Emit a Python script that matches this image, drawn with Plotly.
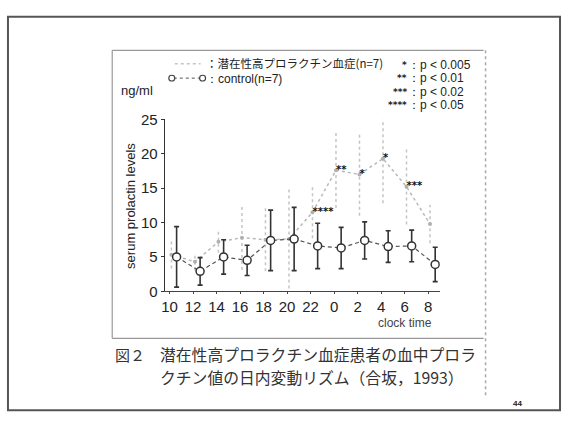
import plotly.graph_objects as go

# ---- data ----
hours = ["10", "12", "14", "16", "18", "20", "22", "0", "2", "4", "6", "8"]
control_mean = [5.0, 2.9, 5.0, 4.5, 7.4, 7.6, 6.6, 6.3, 7.4, 6.5, 6.6, 3.9]
control_sd = [4.4, 2.0, 2.5, 2.2, 4.4, 4.6, 3.3, 3.0, 2.7, 2.3, 2.3, 2.5]
hyper_mean = [5.3, 4.3, 7.2, 7.8, 7.5, 7.6, 11.5, 17.6, 17.0, 19.3, 15.2, 9.8]
hyper_sd = [2.0, 1.3, 1.6, 4.7, 4.6, 7.2, 3.8, 5.5, 6.0, 6.5, 5.5, 2.8]
stars = ["", "", "", "", "", "", "****", "**", "*", "*", "***", ""]
y_ticks = [0, 5, 10, 15, 20, 25]
sig_labels = ["*", "**", "***", "****"]
sig_levels = ["p < 0.005", "p < 0.01", "p < 0.02", "p < 0.05"]

W, H = 563, 426
NARROW = "Liberation Sans, Arial, sans-serif"
CJK = "Noto Sans CJK JP, sans-serif"
GRAY = "#c4c4c4"
INK = "#222222"


def P(x):
    return x / W


def Q(y):
    return 1 - y / H


idx = list(range(len(hours)))
hx = [i + 0.08 for i in idx]
cx = [i + 0.3 for i in idx]

# dotted error bars for hyper group
ebx, eby = [], []
for x, m, s in zip(hx, hyper_mean, hyper_sd):
    ebx += [x, x, None]
    eby += [m - s, m + s, None]

fig = go.Figure()
fig.add_trace(go.Scatter(x=ebx, y=eby, mode="lines",
                         line=dict(color=GRAY, width=1.5, dash="dot"),
                         hoverinfo="skip", showlegend=False))
fig.add_trace(go.Scatter(x=hx, y=hyper_mean, mode="lines+markers",
                         line=dict(color="#b8b8b8", width=1.5, dash="dot"),
                         marker=dict(color="#b0b0b0", size=4),
                         showlegend=False))
fig.add_trace(go.Scatter(x=cx, y=control_mean, mode="lines+markers",
                         line=dict(color="#555", width=1.2, dash="4px,3px"),
                         marker=dict(symbol="circle", size=8, color="white",
                                     line=dict(color="#333", width=1.5)),
                         error_y=dict(type="data", array=control_sd, visible=True,
                                      color="#333", thickness=1.6, width=2.5),
                         showlegend=False))
fig.add_trace(go.Scatter(x=hx, y=hyper_mean, mode="text", text=stars,
                         textposition="middle right",
                         textfont=dict(family="DejaVu Sans, sans-serif", size=10,
                                       color="#111", weight="bold"),
                         hoverinfo="skip", showlegend=False))

shapes = []
# outer slide frame
shapes.append(dict(type="rect", xref="paper", yref="paper",
                   x0=P(4), x1=P(560), y0=Q(418), y1=Q(8),
                   line=dict(color="#555", width=2)))
# chart box lines
shapes.append(dict(type="line", xref="paper", yref="paper",
                   x0=P(109), x1=P(483), y0=Q(43), y1=Q(43),
                   line=dict(color="#999", width=1.2)))
shapes.append(dict(type="line", xref="paper", yref="paper",
                   x0=P(109), x1=P(109), y0=Q(43), y1=Q(343),
                   line=dict(color="#999", width=1.2)))
shapes.append(dict(type="line", xref="paper", yref="paper",
                   x0=P(109), x1=P(483), y0=Q(343), y1=Q(343),
                   line=dict(color="#999", width=1.2)))
shapes.append(dict(type="line", xref="paper", yref="paper",
                   x0=P(485), x1=P(485), y0=Q(43), y1=Q(405),
                   line=dict(color="#aaa", width=1.5, dash="dot")))
# legend samples
shapes.append(dict(type="line", xref="paper", yref="paper",
                   x0=P(172), x1=P(198), y0=Q(57), y1=Q(57),
                   line=dict(color=GRAY, width=1.6, dash="dot")))
shapes.append(dict(type="line", xref="paper", yref="paper",
                   x0=P(171), x1=P(198), y0=Q(72), y1=Q(72),
                   line=dict(color="#555", width=1, dash="3px,3px")))
for cxp in (169, 200):
    shapes.append(dict(type="circle", xref="paper", yref="paper",
                       x0=P(cxp - 3), x1=P(cxp + 3), y0=Q(75), y1=Q(69),
                       fillcolor="white", line=dict(color="#444", width=1.2)))

ann = []


def txt(x, y, s, size, family=NARROW, anchor="left", color=INK, angle=0):
    ann.append(dict(x=P(x), y=Q(y), xref="paper", yref="paper", text=s,
                    showarrow=False, xanchor=anchor, yanchor="middle",
                    textangle=angle, borderpad=0,
                    font=dict(family=family, size=size, color=color)))


txt(202, 56, "：潜在性高プロラクチン血症(n=7)", 11.5, family=CJK)
txt(202, 73, "：control(n=7)", 12)
for k, (lab, lev) in enumerate(zip(sig_labels, sig_levels)):
    ysig = 58 + 14 * k
    txt(407, ysig, "<b>" + lab + "</b>", 9, family="DejaVu Sans, sans-serif", anchor="right")
    txt(406, ysig, "：" + lev, 12)
txt(151, 85, "ng/ml", 13, anchor="right")
txt(128, 205, "serum prolactin levels", 13, anchor="center", angle=-90)
txt(432, 327, "clock time", 12, anchor="right", color="#444")
txt(111, 360, "図２", 15, family=CJK, color="#333")
txt(156, 360, "潜在性高プロラクチン血症患者の血中プロラ", 15.8, family=CJK, color="#333")
txt(156, 384, "クチン値の日内変動リズム（合坂，1993）", 15.8, family=CJK, color="#333")
txt(517, 411, "<b>44</b>", 8, anchor="center")

fig.update_layout(
    width=W, height=H,
    margin=dict(l=0, r=0, t=0, b=0),
    paper_bgcolor="white", plot_bgcolor="rgba(0,0,0,0)",
    shapes=shapes, annotations=ann,
    xaxis=dict(domain=[P(162), P(439)], range=[-0.2, 11.5],
               tickvals=idx, ticktext=hours, showgrid=False, zeroline=False,
               showline=True, linecolor="#444", linewidth=1.2,
               ticks="outside", ticklen=2, tickcolor="#444",
               tickfont=dict(family=NARROW, size=15, color=INK)),
    yaxis=dict(domain=[Q(294), Q(115)], range=[0, 25],
               tickvals=y_ticks, showgrid=False, zeroline=False,
               showline=True, linecolor="#333", linewidth=1.4,
               ticks="outside", ticklen=3, tickcolor="#333",
               tickfont=dict(family=NARROW, size=15, color=INK)),
)

fig.write_html("out.html")
